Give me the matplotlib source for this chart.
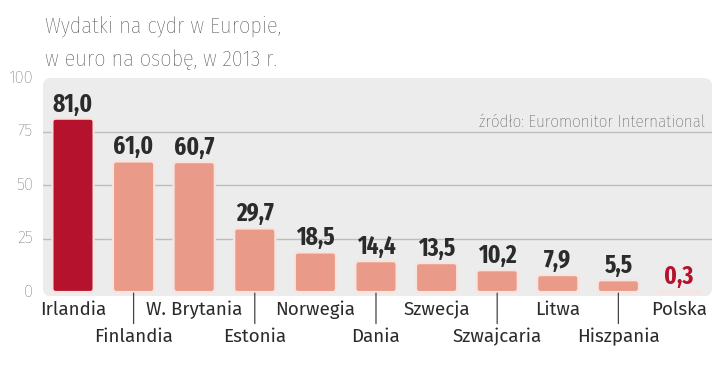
import matplotlib
matplotlib.use("Agg")
import matplotlib.pyplot as plt
from matplotlib.patches import FancyBboxPatch

countries = ["Irlandia", "Finlandia", "W. Brytania", "Estonia", "Norwegia", "Dania",
             "Szwecja", "Szwajcaria", "Litwa", "Hiszpania", "Polska"]
values = [81.0, 61.0, 60.7, 29.7, 18.5, 14.4, 13.5, 10.2, 7.9, 5.5, 0.3]
value_labels = ["81,0", "61,0", "60,7", "29,7", "18,5", "14,4", "13,5", "10,2", "7,9", "5,5", "0,3"]
yticks = [0, 25, 50, 75, 100]

DARK = "#b5122e"
SALMON = "#e99a89"
TXT = "#2b2b2b"
SANS = ["Fira Sans", "DejaVu Sans"]
COND = ["Fira Sans Condensed", "DejaVu Sans"]
XCOND = ["Fira Sans Extra Condensed", "DejaVu Sans"]

fig = plt.figure(figsize=(7.2, 3.73), dpi=100)
W, H = 720, 373
x0, x1 = 43, 712
ytop, ybot = 78, 296.3
ax = fig.add_axes([x0 / W, (H - ybot) / H, (x1 - x0) / W, (ybot - ytop) / H])
ax.set_xlim(-0.495, 10.545)
ax.set_ylim(-2, 100)
ax.patch.set_visible(False)
for s in ax.spines.values():
    s.set_visible(False)

bg = FancyBboxPatch((0, 0), 1, 1, boxstyle="round,pad=0,rounding_size=0.012",
                    transform=ax.transAxes, facecolor="#ececec", edgecolor="none",
                    mutation_aspect=(x1 - x0) / (ybot - ytop), zorder=0)
ax.add_patch(bg)

for yv in yticks[1:-1]:
    ax.axhline(yv, color="#bdbdbd", lw=1.0, zorder=1)

colors = [DARK] + [SALMON] * (len(values) - 1)
xs = list(range(len(values)))
bars = ax.bar(xs, values, width=0.68, color=colors, edgecolor="#f8e4de", linewidth=1.6, zorder=2)

# replace the bars with rounded-corner versions of the same geometry
px_per_x = (x1 - x0) / (10.545 + 0.495)
px_per_y = (ybot - ytop) / 102
aspect = px_per_x / px_per_y
for b in bars:
    bx, by, bw, bh = b.get_x(), b.get_y(), b.get_width(), b.get_height()
    rs = min(3.5 / px_per_x, bh / aspect / 2, bw / 2)
    rb = FancyBboxPatch((bx, by), bw, bh, boxstyle=f"round,pad=0,rounding_size={rs}",
                        mutation_aspect=aspect, facecolor=b.get_facecolor(),
                        edgecolor="#f8e4de", linewidth=1.6, zorder=2)
    ax.add_patch(rb)
    b.set_visible(False)

for i, (v, lab) in enumerate(zip(values, value_labels)):
    c = DARK if i == len(values) - 1 else TXT
    ax.text(i, v + 3.3, lab, ha="center", va="baseline", color=c,
            family=XCOND, weight="bold", size=18, zorder=3)

ax.set_xticks([])
ax.set_yticks([])
for yv in yticks:
    fig.text(33 / W, (H - (292 - yv * 2.14)) / H, str(yv), ha="right", va="center",
             fontsize=12, color="#555555", family=SANS, fontweight="light")

for i, c in enumerate(countries):
    if i % 2 == 0:
        ax.annotate(c, xy=(i, 0), xycoords="data", xytext=(0, -13), textcoords="offset points",
                    ha="center", va="center", family=SANS, size=13.5, color=TXT)
    else:
        ax.annotate(c, xy=(i, 0), xycoords="data", xytext=(0, -32.5), textcoords="offset points",
                    ha="center", va="center", family=SANS, size=13.5, color=TXT)
        ax.annotate("", xy=(i, -0.5), xycoords="data", xytext=(0, -22), textcoords="offset points",
                    arrowprops=dict(arrowstyle="-", color="#444444", lw=0.9, shrinkA=0, shrinkB=0),
                    annotation_clip=False)

fig.text(45 / W, (H - 26) / H, "Wydatki na cydr w Europie,", ha="left", va="center",
         fontsize=16, color="#3c3c3c", family=COND, fontweight="light")
fig.text(45 / W, (H - 60) / H, "w euro na osobę, w 2013 r.", ha="left", va="center",
         fontsize=16, color="#3c3c3c", family=COND, fontweight="light")
fig.text(705 / W, (H - 122) / H, "źródło: Euromonitor International", ha="right", va="center",
         fontsize=12.3, color="#3c3c3c", family=COND, fontweight="light")

fig.savefig("out.png", dpi=100, facecolor="white")
